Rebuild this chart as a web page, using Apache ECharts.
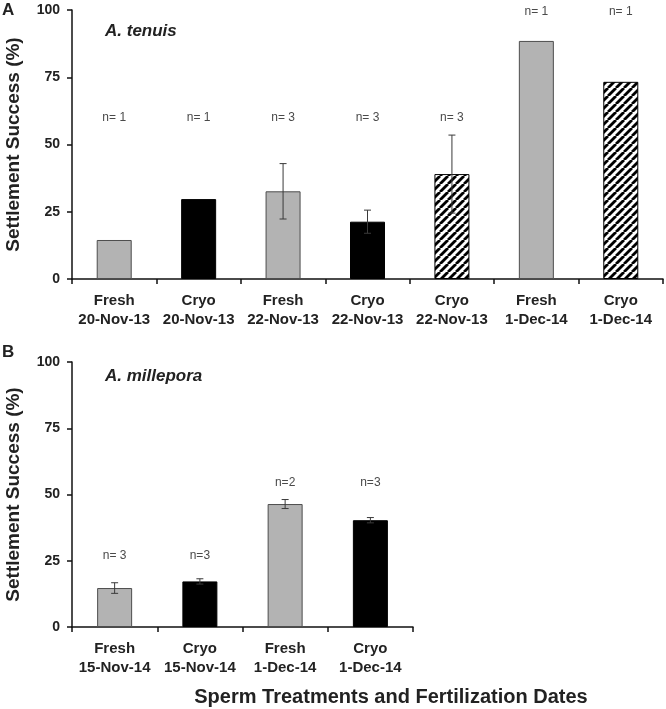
<!DOCTYPE html>
<html><head><meta charset="utf-8">
<script src="https://cdn.jsdelivr.net/npm/echarts@6/dist/echarts.min.js"></script>
<style>html,body{margin:0;padding:0;background:#fff}#c{width:666px;height:709px}</style>
</head><body><div id="c"></div>
<script>
// ---- data ----
const catsA = ['Fresh\n20-Nov-13','Cryo\n20-Nov-13','Fresh\n22-Nov-13','Cryo\n22-Nov-13','Cryo\n22-Nov-13','Fresh\n1-Dec-14','Cryo\n1-Dec-14'];
const valsA = [14.5, 29.7, 32.6, 21.3, 39.0, 88.5, 73.3];
const errA  = [null, null, 10.3, 4.3, 14.5, null, null];
const typeA = ['fresh','cryo','fresh','cryo','hatch','fresh','hatch'];
const nA    = ['n= 1','n= 1','n= 3','n= 3','n= 3','n= 1','n= 1'];
const nLevelA = [60, 60, 60, 60, 60, 99.3, 99.3];

const catsB = ['Fresh\n15-Nov-14','Cryo\n15-Nov-14','Fresh\n1-Dec-14','Cryo\n1-Dec-14'];
const valsB = [14.7, 17.2, 46.4, 40.3];
const errB  = [2.0, 1.0, 1.7, 1.0];
const typeB = ['fresh','cryo','fresh','cryo'];
const nB    = ['n= 3','n=3','n=2','n=3'];
const nLevelB = [27, 27, 54.3, 54.3];

const yMin = 0, yMax = 100, yStep = 25;

// ---- styles ----
const FONT = 'Liberation Sans, Arial, sans-serif';
function hatchPattern(){
  const s = 8, c = document.createElement('canvas');
  c.width = s; c.height = s;
  const g = c.getContext('2d');
  g.fillStyle = '#fff'; g.fillRect(0,0,s,s);
  g.strokeStyle = '#000'; g.lineWidth = 2.8;
  for (let k = -1; k <= 1; k++) {
    g.beginPath(); g.moveTo(k*s, s); g.lineTo(k*s + s, 0); g.stroke();
  }
  return c;
}
const hatch = {image: hatchPattern(), repeat: 'repeat'};
const styleOf = {
  fresh: {color: '#b3b3b3', borderColor: '#4d4d4d', borderWidth: 1},
  cryo:  {color: '#000000', borderColor: '#000000', borderWidth: 1},
  hatch: {color: hatch, borderColor: '#000000', borderWidth: 1}
};

const chart = echarts.init(document.getElementById('c'), null, {renderer: 'canvas'});

function xAxisFor(idx, cats){
  return {
    type: 'category', gridIndex: idx, data: cats,
    axisLine: {lineStyle: {color: '#111', width: 1.5}},
    axisTick: {show: true, length: 5, lineStyle: {color: '#111', width: 1.5}},
    axisLabel: {fontFamily: FONT, fontWeight: 'bold', fontSize: 15, color: '#222', lineHeight: 19, margin: 12, interval: 0}
  };
}
function yAxisFor(idx){
  return {
    type: 'value', gridIndex: idx, min: yMin, max: yMax, interval: yStep,
    name: 'Settlement Success (%)', nameLocation: 'middle', nameRotate: 90, nameGap: 49,
    nameTextStyle: {fontFamily: FONT, fontWeight: 'bold', fontSize: 19, color: '#222'},
    axisLine: {show: true, lineStyle: {color: '#111', width: 1.5}},
    axisTick: {show: true, length: 5, lineStyle: {color: '#111', width: 1.5}},
    splitLine: {show: false},
    axisLabel: {fontFamily: FONT, fontWeight: 'bold', fontSize: 14, color: '#222', margin: 12}
  };
}
function barSeries(idx, vals, types){
  return {
    type: 'bar', xAxisIndex: idx, yAxisIndex: idx, barWidth: 35,
    data: vals.map((v, i) => ({value: v, itemStyle: styleOf[types[i]]})),
    z: 2, silent: true
  };
}
function errSeries(idx, vals, errs){
  return {
    type: 'custom', xAxisIndex: idx, yAxisIndex: idx, z: 5, silent: true,
    data: vals.map((v, i) => [i, v, errs[i] == null ? 0 : errs[i], errs[i] == null ? 0 : 1]),
    renderItem: function(params, api){
      if (!api.value(3)) return null;
      const i = api.value(0), v = api.value(1), e = api.value(2);
      const hi = api.coord([i, v + e]), lo = api.coord([i, v - e]);
      const w = 3.5, st = {stroke: '#3a3a3a', lineWidth: 1};
      return {type: 'group', children: [
        {type: 'line', shape: {x1: hi[0], y1: hi[1], x2: lo[0], y2: lo[1]}, style: st},
        {type: 'line', shape: {x1: hi[0]-w, y1: hi[1], x2: hi[0]+w, y2: hi[1]}, style: st},
        {type: 'line', shape: {x1: lo[0]-w, y1: lo[1], x2: lo[0]+w, y2: lo[1]}, style: st}
      ]};
    }
  };
}
function nSeries(idx, labels, levels){
  return {
    type: 'custom', xAxisIndex: idx, yAxisIndex: idx, z: 6, silent: true, clip: false,
    data: labels.map((t, i) => [i, levels[i]]),
    renderItem: function(params, api){
      const p = api.coord([api.value(0), api.value(1)]);
      return {type: 'text', x: p[0], y: p[1], style: {
        text: labels[params.dataIndex], fill: '#4a4a4a', font: '12px ' + FONT,
        align: 'center', verticalAlign: 'middle'}};
    }
  };
}

chart.setOption({
  animation: false,
  backgroundColor: '#fff',
  grid: [
    {left: 72, top: 10, width: 591, height: 269, containLabel: false, outerBoundsMode: 'none'},
    {left: 72, top: 362, width: 341, height: 265, containLabel: false, outerBoundsMode: 'none'}
  ],
  xAxis: [xAxisFor(0, catsA), xAxisFor(1, catsB)],
  yAxis: [yAxisFor(0), yAxisFor(1)],
  series: [
    barSeries(0, valsA, typeA), errSeries(0, valsA, errA), nSeries(0, nA, nLevelA),
    barSeries(1, valsB, typeB), errSeries(1, valsB, errB), nSeries(1, nB, nLevelB)
  ],
  graphic: [
    {type: 'text', left: 2, top: 2, style: {text: 'A', font: 'bold 17px ' + FONT, fill: '#222'}},
    {type: 'text', left: 2, top: 344, style: {text: 'B', font: 'bold 17px ' + FONT, fill: '#222'}},
    {type: 'text', left: 105, top: 23, style: {text: 'A. tenuis', font: 'italic bold 17px ' + FONT, fill: '#222'}},
    {type: 'text', left: 105, top: 368, style: {text: 'A. millepora', font: 'italic bold 17px ' + FONT, fill: '#222'}},
    {type: 'text', x: 391, y: 697, style: {text: 'Sperm Treatments and Fertilization Dates', font: 'bold 20px ' + FONT, fill: '#222', align: 'center', verticalAlign: 'middle'}}
  ]
});
</script>
</body></html>
